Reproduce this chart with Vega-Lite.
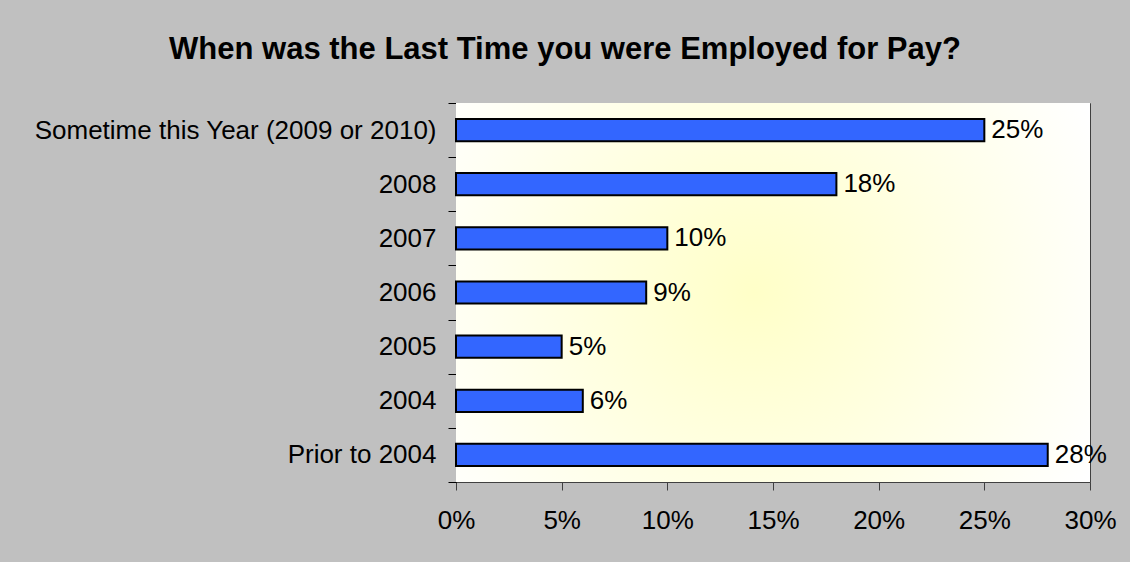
{
  "$schema": "https://vega.github.io/schema/vega-lite/v6.json",
  "width": 634,
  "height": 379,
  "autosize": "none",
  "padding": {"left": 456, "top": 103, "right": 40, "bottom": 80},
  "background": "#C0C0C0",
  "title": {
    "text": "When was the Last Time you were Employed for Pay?",
    "font": "Liberation Sans",
    "fontSize": 31,
    "fontWeight": "bold",
    "color": "#000000",
    "anchor": "middle",
    "dx": -208,
    "offset": 24
  },
  "config": {
    "view": {"stroke": "#808080", "strokeWidth": 1},
    "font": "Liberation Sans"
  },
  "data": {
    "values": [
      {"cat": "Sometime this Year (2009 or 2010)", "v": 0.25},
      {"cat": "2008", "v": 0.18},
      {"cat": "2007", "v": 0.10},
      {"cat": "2006", "v": 0.09},
      {"cat": "2005", "v": 0.05},
      {"cat": "2004", "v": 0.06},
      {"cat": "Prior to 2004", "v": 0.28}
    ]
  },
  "layer": [
    {
      "data": {"values": [{"a": 1}]},
      "mark": {
        "type": "rect",
        "fill": {
          "gradient": "radial",
          "x1": 0.47, "y1": 0.5, "r1": 0,
          "x2": 0.47, "y2": 0.5, "r2": 0.6,
          "stops": [
            {"offset": 0, "color": "#FFFFC8"},
            {"offset": 1, "color": "#FFFFFF"}
          ]
        }
      },
      "encoding": {
        "x": {"datum": 0, "type": "quantitative"},
        "x2": {"datum": 0.3}
      }
    },
    {
      "mark": {"type": "bar", "fill": "#3366FF", "stroke": "#000000", "strokeWidth": 2, "height": {"band": 0.41}},
      "encoding": {
        "y": {
          "field": "cat",
          "type": "nominal",
          "sort": null,
          "scale": {"paddingInner": 0, "paddingOuter": 0},
          "axis": {
            "title": null,
            "tickBand": "extent",
            "tickSize": 8,
            "tickColor": "#000000",
            "domainColor": "#000000",
            "labelFontSize": 26,
            "labelColor": "#000000",
            "labelPadding": 12,
            "labelLimit": 500,
            "grid": false
          }
        },
        "x": {
          "field": "v",
          "type": "quantitative",
          "scale": {"domain": [0, 0.3], "nice": false},
          "axis": {
            "title": null,
            "values": [0, 0.05, 0.1, 0.15, 0.2, 0.25, 0.3],
            "format": ".0%",
            "grid": true,
            "gridColor": "#404040",
            "gridOpacity": 1,
            "tickSize": 8,
            "tickColor": "#404040",
            "domainColor": "#404040",
            "labelFontSize": 26,
            "labelColor": "#000000",
            "labelFlush": false,
            "labelPadding": 17
          }
        }
      }
    },
    {
      "mark": {"type": "text", "align": "left", "baseline": "middle", "dx": 7, "fontSize": 26, "color": "#000000"},
      "encoding": {
        "y": {"field": "cat", "type": "nominal", "sort": null},
        "x": {"field": "v", "type": "quantitative"},
        "text": {"field": "v", "format": ".0%"}
      }
    }
  ]
}
